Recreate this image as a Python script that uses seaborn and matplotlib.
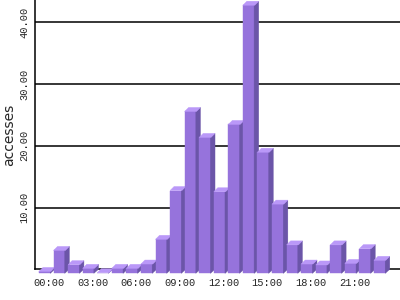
import matplotlib
matplotlib.use("Agg")
import matplotlib.pyplot as plt
import seaborn as sns
import pandas as pd
from matplotlib.patches import Polygon

hours = [f"{h:02d}:00" for h in range(24)]
accesses = [0.3, 3.7, 1.4, 0.8, 0.1, 0.8, 0.8, 1.5, 5.5, 13.4, 26.2, 22.0,
            13.2, 24.1, 43.4, 19.6, 11.2, 4.6, 1.5, 1.35, 4.6, 1.6, 4.0, 2.1]
tick_labels = ["00:00", "03:00", "06:00", "09:00", "12:00", "15:00", "18:00", "21:00"]

FRONT = "#9673DC"
TOP = "#BA98F8"
SIDE = "#6B55A8"

sns.set_style("white")
fig = plt.figure(figsize=(4, 3), dpi=100)
W, H = 400, 300
ax_left, ax_bottom, ax_w, ax_h = 35, 300 - 269.3, 365, 269.3
ax = fig.add_axes([ax_left / W, ax_bottom / H, ax_w / W, ax_h / H])

df = pd.DataFrame({"hour": hours, "accesses": accesses})
sns.barplot(data=df, x="hour", y="accesses", color=FRONT, width=0.81,
            saturation=1, ax=ax, linewidth=0, errorbar=None)

xmin, xmax = -0.954, 24.106
ymin, ymax = 0, 43.6
ax.set_xlim(xmin, xmax)
ax.set_ylim(ymin, ymax)

depth_px = 4.0
dx = depth_px * (xmax - xmin) / ax_w
dy = depth_px * (ymax - ymin) / ax_h
eps = 0.6 * (xmax - xmin) / ax_w

bars = sorted(list(ax.patches), key=lambda p: p.get_x())
for i, p in enumerate(bars):
    x, w, h = p.get_x(), p.get_width(), p.get_height()
    z = 3 + i * 0.01
    p.set_x(x - dx)
    p.set_y(-dy)
    p.set_clip_on(False)
    p.set_zorder(z)
    p.set_edgecolor(FRONT)
    p.set_linewidth(0.3)
    top = Polygon([(x - dx, h - dy), (x + w - dx, h - dy), (x + w, h), (x, h)],
                  closed=True, facecolor=TOP, edgecolor=TOP, linewidth=0.3,
                  zorder=z + 0.001, clip_on=False)
    side = Polygon([(x + w - dx - eps, -dy), (x + w, 0), (x + w, h),
                    (x + w - dx - eps, h - dy)],
                   closed=True, facecolor=SIDE, edgecolor=SIDE, linewidth=0.3,
                   zorder=z + 0.0005, clip_on=False)
    ax.add_patch(side)
    ax.add_patch(top)

ax.set_yticks([10, 20, 30, 40])
ax.set_yticklabels(["10.00", "20.00", "30.00", "40.00"], rotation=90, va="center",
                   family="Liberation Mono", fontsize=7.5)
ax.yaxis.grid(True, color="black", linewidth=1.1)
ax.set_axisbelow(True)
ax.set_xticks(range(0, 24, 3))
ax.set_xticklabels(tick_labels, family="Liberation Mono", fontsize=7.5)
ax.tick_params(axis="both", length=0)
ax.tick_params(axis="y", pad=4)
ax.tick_params(axis="x", pad=6)
ax.set_xlabel("")
ax.set_ylabel("accesses", fontsize=10)
ax.yaxis.set_label_coords((16 - 35) / 365, 0.5)

for s in ["top", "right"]:
    ax.spines[s].set_visible(False)
for s in ["left", "bottom"]:
    ax.spines[s].set_color("black")
    ax.spines[s].set_linewidth(1.1)
    ax.spines[s].set_zorder(2.5)

fig.savefig("out.png", dpi=100)
